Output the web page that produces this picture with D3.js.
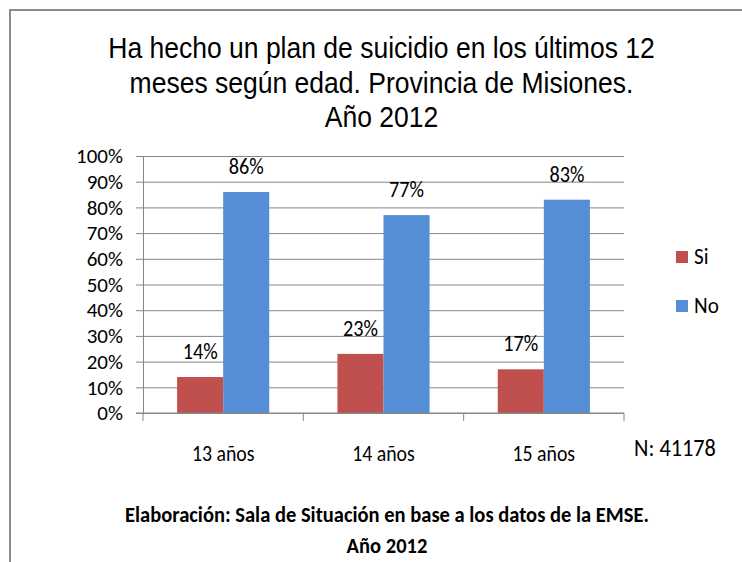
<!DOCTYPE html>
<html>
<head>
<meta charset="utf-8">
<script src="https://cdn.jsdelivr.net/npm/d3@7"></script>
<style>
body { margin: 0; background: #fff; }
text { fill: #000; }
</style>
</head>
<body>
<svg id="chart"></svg>
<script>
// data
var categories = ["13 años", "14 años", "15 años"];
var series = ["Si", "No"];
var siValues = [14, 23, 17];
var noValues = [86, 77, 83];
var yTicks = [0, 10, 20, 30, 40, 50, 60, 70, 80, 90, 100];
var titleLines = ["Ha hecho un plan de suicidio en los últimos 12", "meses según edad. Provincia de Misiones.", "Año 2012"];
var footerLines = ["Elaboración: Sala de Situación en base a los datos de la EMSE.", "Año 2012"];
var nLabel = "N: 41178";

var colors = {Si: "#C0504D", No: "#558ED5"};
var calibri = "Carlito, Lato, 'Open Sans', sans-serif";

var width = 742, height = 562;
var plot = {left: 143, right: 624, top: 156, bottom: 413};

var svg = d3.select("#chart")
	.attr("width", width)
	.attr("height", height)
	.style("display", "block");

svg.append("rect").attr("width", width).attr("height", height).attr("fill", "#fff");

// frame (only top and left edges are visible)
svg.append("path")
	.attr("d", "M10," + height + "V10H" + width)
	.attr("fill", "none")
	.attr("stroke", "#8c8c8c")
	.attr("stroke-width", 2);

var rows = categories.map((c, i) => ({cat: c, Si: siValues[i], No: noValues[i]}));

var x0 = d3.scaleBand().domain(categories).range([plot.left, plot.right]).padding(0);
var x1 = d3.scaleBand().domain(series).range([0, x0.bandwidth()]).paddingInner(0).paddingOuter(0.74);
var y = d3.scaleLinear().domain([0, 100]).range([plot.bottom, plot.top]);

// gridlines + y axis
var yAxis = d3.axisLeft(y)
	.tickValues(yTicks)
	.tickFormat(d => d + "%")
	.tickSize(-(plot.right - plot.left))
	.tickSizeOuter(0);

var gy = svg.append("g").attr("transform", "translate(" + plot.left + ",0)").call(yAxis);
gy.select(".domain").attr("stroke", "#868686");
gy.selectAll(".tick line").attr("stroke", "#868686").attr("x1", -7);
gy.selectAll(".tick text")
	.attr("x", -20)
	.style("font-family", calibri)
	.style("font-size", "21px")
	.attr("fill", "#222");

// bars
var groups = svg.append("g").selectAll("g")
	.data(rows)
	.join("g")
	.attr("transform", d => "translate(" + x0(d.cat) + ",0)");

groups.selectAll("rect")
	.data(d => series.map(s => ({key: s, value: d[s]})))
	.join("rect")
	.attr("x", d => x1(d.key))
	.attr("width", x1.bandwidth())
	.attr("y", d => y(d.value))
	.attr("height", d => y(0) - y(d.value))
	.attr("fill", d => colors[d.key]);

groups.selectAll("text")
	.data(d => series.map(s => ({key: s, value: d[s]})))
	.join("text")
	.attr("transform", d => "translate(" + (x1(d.key) + x1.bandwidth() / 2) + "," + (y(d.value) - 18) + ") scale(0.92,1)")
	.attr("text-anchor", "middle")
	.style("font-family", calibri)
	.style("font-size", "22px")
	.attr("fill", "#222")
	.text(d => d.value + "%");

// x axis
var xAxis = d3.axisBottom(x0).tickSize(0).tickPadding(0);
var gx = svg.append("g").attr("transform", "translate(0," + plot.bottom + ")").call(xAxis);
gx.select(".domain").attr("d", "M" + (plot.left - 7) + ",0H" + plot.right).attr("stroke", "#868686");
gx.selectAll(".tick text")
	.attr("y", 0)
	.attr("dy", 0)
	.attr("transform", "translate(0,48) scale(0.86,1)")
	.style("font-family", calibri)
	.style("font-size", "23px")
	.attr("fill", "#222");
// category separators
gx.selectAll(".sep")
	.data(categories.map(c => x0(c)).concat([plot.right]))
	.join("line")
	.attr("class", "sep")
	.attr("x1", d => d).attr("x2", d => d)
	.attr("y1", 0).attr("y2", 8)
	.attr("stroke", "#868686");

// legend
var legend = svg.append("g").selectAll("g")
	.data(series)
	.join("g")
	.attr("transform", (d, i) => "translate(676," + (251 + i * 49) + ")");
legend.append("rect").attr("width", 12).attr("height", 12).attr("fill", d => colors[d]);
legend.append("text")
	.attr("transform", "translate(18,13) scale(0.92,1)")
	.style("font-family", calibri)
	.style("font-size", "23px")
	.attr("fill", "#222")
	.text(d => d);

svg.append("text")
	.attr("transform", "translate(634,456) scale(0.93,1)")
	.style("font-family", calibri)
	.style("font-size", "24px")
	.attr("fill", "#222")
	.text(nLabel);

// squeeze a block of centred lines so its first line gets the target width
function textBlock(lines, cx, baselines, font, size, weight, targetWidth) {
	var g = svg.append("g");
	var inner = g.append("g");
	var t = inner.selectAll("text")
		.data(lines)
		.join("text")
		.attr("x", 0)
		.attr("y", (d, i) => baselines[i])
		.attr("text-anchor", "middle")
		.style("font-family", font)
		.style("font-size", size + "px")
		.style("font-weight", weight)
		.text(d => d);
	var w = t.nodes()[0].getComputedTextLength();
	var k = targetWidth / w;
	g.attr("transform", "translate(" + cx + ",0)");
	inner.attr("transform", "scale(" + k + ",1)");
}

textBlock(titleLines, 381.5, [58, 93, 127], "'Liberation Sans', Arial, sans-serif", 29, "normal", 547);
textBlock(footerLines, 387, [522, 553], calibri, 23, "bold", 524);
</script>
</body>
</html>
